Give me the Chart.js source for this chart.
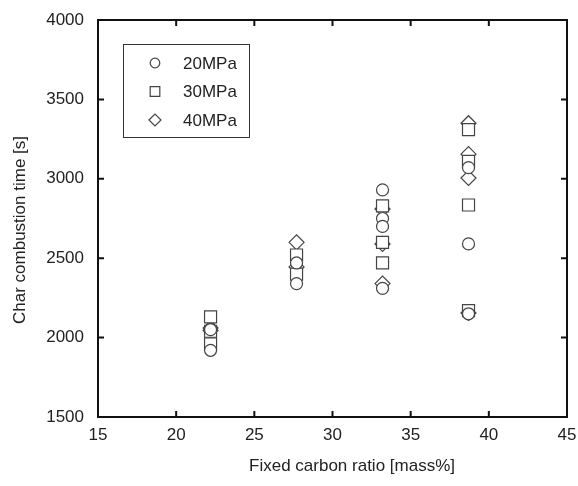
<!DOCTYPE html>
<html>
<head>
<meta charset="utf-8">
<script src="https://cdn.jsdelivr.net/npm/chart.js@4/dist/chart.umd.min.js"></script>
<style>
  html, body { margin: 0; padding: 0; background: #fff; }
  #wrap { width: 578px; height: 486px; }
</style>
</head>
<body>
<div id="wrap"><canvas id="myChart" width="578" height="486"></canvas></div>
<script>
// fixed carbon ratio of each coal group [mass%]
const carbonRatio = [22.2, 27.7, 33.2, 38.7];

// char combustion time [s], one list per carbon group
const time20MPa = [[2050, 1920], [2470, 2340], [2930, 2750, 2700, 2310], [3070, 2590, 2150]];
const time30MPa = [[2130, 1960, 2040], [2520, 2400], [2830, 2600, 2470], [3310, 3110, 2835, 2170]];
const time40MPa = [[2060, 2045], [2600, 2445], [2810, 2590, 2340], [3350, 3155, 3005, 2155]];

const xTicks = [15, 20, 25, 30, 35, 40, 45];
const yTicks = [1500, 2000, 2500, 3000, 3500, 4000];

const xTitle = "Fixed carbon ratio [mass%]";
const yTitle = "Char combustion time [s]";

const FONT = "'Liberation Sans', Arial, sans-serif";
const FSIZE = 17;
const INK = "#222";
const MARK = "#444";

function toPoints(groups) {
  const pts = [];
  groups.forEach((vals, i) => vals.forEach(v => pts.push({ x: carbonRatio[i], y: v })));
  return pts;
}

const series = [
  { label: "20MPa", data: toPoints(time20MPa), pointStyle: "circle", pointRadius: 6 },
  { label: "30MPa", data: toPoints(time30MPa), pointStyle: "rect", pointRadius: 8.5 },
  { label: "40MPa", data: toPoints(time40MPa), pointStyle: "rectRot", pointRadius: 7.5 }
];

// frame + inward ticks on all four sides, axis titles, legend box inside plot
const framePlugin = {
  id: "frame",
  afterDatasetsDraw(chart) {
    const { ctx, chartArea: a, scales } = chart;
    ctx.save();
    ctx.strokeStyle = "#111";
    ctx.lineWidth = 2;
    ctx.strokeRect(a.left, a.top, a.right - a.left, a.bottom - a.top);
    const len = 6;
    ctx.beginPath();
    xTicks.forEach(t => {
      const px = scales.x.getPixelForValue(t);
      ctx.moveTo(px, a.bottom); ctx.lineTo(px, a.bottom - len);
      ctx.moveTo(px, a.top); ctx.lineTo(px, a.top + len);
    });
    yTicks.forEach(t => {
      const py = scales.y.getPixelForValue(t);
      ctx.moveTo(a.left, py); ctx.lineTo(a.left + len, py);
      ctx.moveTo(a.right, py); ctx.lineTo(a.right - len, py);
    });
    ctx.stroke();

    // axis titles
    ctx.font = FSIZE + "px " + FONT;
    ctx.fillStyle = INK;
    ctx.textAlign = "center";
    ctx.textBaseline = "middle";
    ctx.fillText(xTitle, 352, 466);
    ctx.save();
    ctx.translate(20, 230);
    ctx.rotate(-Math.PI / 2);
    ctx.fillText(yTitle, 0, 0);
    ctx.restore();

    // legend
    ctx.lineWidth = 1;
    ctx.strokeStyle = "#333";
    ctx.strokeRect(123.5, 44.5, 126, 93);
    ctx.textAlign = "left";
    series.forEach((s, i) => {
      const y = 63 + i * 28.5;
      ctx.fillStyle = "#fff";
      ctx.strokeStyle = MARK;
      ctx.lineWidth = 1.2;
      Chart.helpers.drawPoint(ctx, { pointStyle: s.pointStyle, radius: s.pointRadius * 0.8, rotation: 0, borderWidth: 1.2 }, 155, y);
      ctx.fillStyle = INK;
      ctx.fillText(s.label, 183, y + 1);
    });
    ctx.restore();
  }
};

const ctx = document.getElementById("myChart").getContext("2d");
new Chart(ctx, {
  type: "scatter",
  data: {
    datasets: series.map(s => ({
      label: s.label,
      data: s.data,
      pointStyle: s.pointStyle,
      pointRadius: s.pointRadius,
      pointBorderColor: MARK,
      pointBackgroundColor: "#fff",
      pointBorderWidth: 1.2
    }))
  },
  options: {
    responsive: false,
    animation: false,
    layout: { padding: { top: 20, right: 11, left: 0, bottom: 0 } },
    plugins: {
      legend: { display: false },
      tooltip: { enabled: false }
    },
    scales: {
      x: {
        type: "linear",
        min: 15, max: 45,
        afterFit: s => { s.height = 69; s.paddingLeft = 0; s.paddingRight = 0; },
        afterBuildTicks: s => { s.ticks = xTicks.map(v => ({ value: v })); },
        grid: { display: false, drawTicks: false },
        border: { display: false },
        ticks: { padding: 8, color: INK, font: { family: FONT, size: FSIZE }, maxRotation: 0, callback: v => String(v) }
      },
      y: {
        type: "linear",
        min: 1500, max: 4000,
        afterFit: s => { s.width = 98; s.paddingTop = 0; s.paddingBottom = 0; },
        afterBuildTicks: s => { s.ticks = yTicks.map(v => ({ value: v })); },
        grid: { display: false, drawTicks: false },
        border: { display: false },
        ticks: { padding: 14, color: INK, font: { family: FONT, size: FSIZE }, callback: v => String(v) }
      }
    }
  },
  plugins: [framePlugin]
});
</script>
</body>
</html>
